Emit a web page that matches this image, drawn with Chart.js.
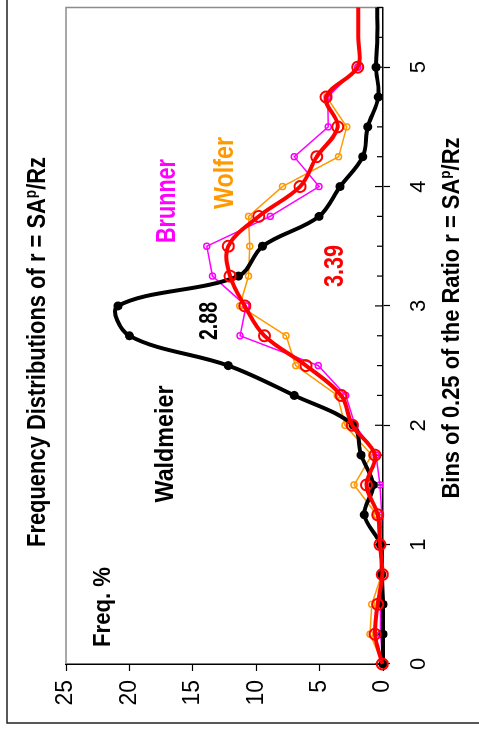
<!DOCTYPE html>
<html>
<head>
<meta charset="utf-8">
<script src="https://cdn.jsdelivr.net/npm/chart.js@4.4.0/dist/chart.umd.min.js"></script>
<style>
  html, body { margin: 0; padding: 0; background: #fff; overflow: hidden; }
  #wrap {
    position: absolute; left: 0; top: 0;
    width: 736px; height: 479px;
    transform-origin: 0 0;
    transform: translate(0, 736px) rotate(-90deg);
  }
</style>
</head>
<body>
<div id="wrap"><canvas id="freqChart" width="736" height="479"></canvas></div>
<script>
// Bins of 0.25 of the ratio r = SAp/Rz
const bins = [0, 0.25, 0.5, 0.75, 1, 1.25, 1.5, 1.75, 2, 2.25, 2.5, 2.75, 3,
              3.25, 3.5, 3.75, 4, 4.25, 4.5, 4.75, 5, 5.25, 5.5, 5.75];

// Frequency in percent
const waldmeier = [0, 0, 0, 0.1, 0.2, 1.47, 0.78, 1.73, 2.34, 7.0, 12.2, 20.0, 20.9,
                   11.4, 9.5, 5.04, 3.39, 1.6, 1.2, 0.37, 0.55, 0.45, 0.45, 0.45];
const average = [0.05, 0.63, 0.42, 0.05, 0.24, 0.42, 1.3, 0.63, 2.42, 3.3, 6.07, 9.35, 10.9,
                 12.06, 12.2, 9.8, 6.54, 5.23, 3.57, 4.49, 2.0, 1.95, 1.95, 1.95];
const brunner = [0, 0.2, 0.2, 0, 0.2, 0.1, 0.24, 0.55, 2.2, 2.94, 5.1, 11.27, 10.8,
                 13.45, 13.9, 8.9, 5.04, 7.0, 4.31, 4.36, 2.0];
const wolfer = [0, 1.02, 0.89, 0.1, 0.2, 0.5, 2.28, 0.89, 3.0, 3.6, 6.88, 7.64, 11.3,
                10.6, 10.5, 10.6, 7.93, 3.5, 2.86, 4.44, 2.0];

const valueTicks = [0, 5, 10, 15, 20, 25];
const binLabels = [0, 1, 2, 3, 4, 5];

const FONT = "'Liberation Sans', Arial, sans-serif";

function toPoints(values) {
    return values.map((v, i) => ({ x: bins[i], y: v }));
}

// Text drawn on top of the chart (landscape coordinates, before rotation)
const labels = [
    { parts: [['Frequency Distributions of r = SA'], ['p', true], ['/Rz']], cx: 384, base: 45, size: 26, width: 390, color: '#000' },
    { parts: [['Bins of 0.25 of the Ratio r = SA'], ['p', true], ['/Rz']], cx: 418, base: 459, size: 24, width: 361, color: '#000' },
    { parts: [['Freq. %']], cx: 129, base: 110, size: 24, width: 80, color: '#000' },
    { parts: [['Waldmeier']], cx: 292, base: 173, size: 25, width: 117, color: '#000' },
    { parts: [['2.88']], cx: 415, base: 217, size: 26, width: 38, color: '#000' },
    { parts: [['3.39']], cx: 470, base: 343, size: 27, width: 42, color: '#ff0000' },
    { parts: [['Brunner']], cx: 535, base: 175, size: 27, width: 84, color: '#ff00ff' },
    { parts: [['Wolfer']], cx: 563, base: 233, size: 27, width: 72, color: '#ff9900' }
];

function drawLabel(ctx, lab) {
    const supSize = lab.size * 0.62;
    let total = 0;
    lab.parts.forEach(p => {
        ctx.font = 'bold ' + (p[1] ? supSize : lab.size) + 'px ' + FONT;
        total += ctx.measureText(p[0]).width;
    });
    const sx = lab.width / total;
    ctx.save();
    ctx.translate(lab.cx, lab.base);
    ctx.scale(sx, 1);
    ctx.fillStyle = lab.color;
    ctx.textBaseline = 'alphabetic';
    ctx.textAlign = 'left';
    let x = -total / 2;
    lab.parts.forEach(p => {
        ctx.font = 'bold ' + (p[1] ? supSize : lab.size) + 'px ' + FONT;
        ctx.fillText(p[0], x, p[1] ? -lab.size * 0.36 : 0);
        x += ctx.measureText(p[0]).width;
    });
    ctx.restore();
}

const decor = {
    id: 'decor',
    beforeDatasetsDraw(chart) {
        const { ctx, chartArea: a } = chart;
        const xs = chart.scales.x;
        ctx.save();
        // gray frame of the plot area
        ctx.strokeStyle = '#8c8c8c';
        ctx.lineWidth = 1.5;
        ctx.beginPath();
        ctx.moveTo(a.left, a.top);
        ctx.lineTo(a.right, a.top);
        ctx.lineTo(a.right, a.bottom);
        ctx.stroke();
        // outer border of the figure
        ctx.strokeStyle = '#222';
        ctx.lineWidth = 1.5;
        ctx.beginPath();
        ctx.moveTo(13, chart.height);
        ctx.lineTo(13, 7);
        ctx.lineTo(chart.width, 7);
        ctx.stroke();
        // inner tick marks on the bin axis
        ctx.strokeStyle = '#000';
        ctx.lineWidth = 1.2;
        xs.ticks.forEach(t => {
            const px = xs.getPixelForValue(t.value);
            const len = Number.isInteger(t.value) ? 8 : 6;
            ctx.beginPath();
            ctx.moveTo(px, a.bottom);
            ctx.lineTo(px, a.bottom - len);
            ctx.stroke();
        });
        ctx.restore();
    },
    afterDraw(chart) {
        labels.forEach(lab => drawLabel(chart.ctx, lab));
    }
};

const ctx = document.getElementById('freqChart').getContext('2d');
new Chart(ctx, {
    type: 'line',
    data: {
        datasets: [
            {
                label: 'Average',
                data: toPoints(average),
                borderColor: '#ff0000',
                borderWidth: 4,
                tension: 0.35,
                capBezierPoints: false,
                clip: false,
                pointStyle: 'circle',
                pointRadius: c => (c.raw && c.raw.x > 5 ? 0 : 5.5),
                pointBorderWidth: 2,
                pointBorderColor: '#ff0000',
                pointBackgroundColor: 'rgba(0,0,0,0)'
            },
            {
                label: 'Waldmeier',
                data: toPoints(waldmeier),
                borderColor: '#000',
                borderWidth: 4,
                tension: 0.35,
                capBezierPoints: false,
                clip: false,
                pointRadius: c => (c.raw && c.raw.x > 5 ? 0 : 4.5),
                pointBorderWidth: 0,
                pointBackgroundColor: '#000'
            },
            {
                label: 'Brunner',
                data: toPoints(brunner),
                borderColor: '#ff00ff',
                borderWidth: 1.5,
                tension: 0,
                pointRadius: 3,
                pointBorderWidth: 1.5,
                pointBorderColor: '#ff00ff',
                pointBackgroundColor: 'rgba(0,0,0,0)'
            },
            {
                label: 'Wolfer',
                data: toPoints(wolfer),
                borderColor: '#ff9900',
                borderWidth: 1.5,
                tension: 0,
                pointRadius: 3,
                pointBorderWidth: 1.5,
                pointBorderColor: '#ff9900',
                pointBackgroundColor: 'rgba(0,0,0,0)'
            }
        ]
    },
    options: {
        responsive: false,
        animation: false,
        layout: { padding: { top: 66, right: 6, left: 0, bottom: 0 } },
        plugins: {
            legend: { display: false },
            tooltip: { enabled: false }
        },
        scales: {
            x: {
                type: 'linear',
                min: 0,
                max: 5.5,
                afterFit(s) {
                    s.height = 96;
                    s.paddingLeft = 0;
                    s.paddingRight = 0;
                },
                ticks: {
                    stepSize: 0.25,
                    autoSkip: false,
                    maxRotation: 0,
                    padding: 16,
                    color: '#000',
                    font: { family: FONT, size: 22 },
                    callback: v => (binLabels.includes(v) ? String(v) : '')
                },
                grid: {
                    drawOnChartArea: false,
                    tickLength: 7,
                    tickWidth: 1.2,
                    tickColor: c => (c.tick && binLabels.includes(c.tick.value) ? '#000' : 'rgba(0,0,0,0)')
                },
                border: { color: '#000', width: 1.5 }
            },
            y: {
                min: 0,
                max: 25,
                afterFit(s) {
                    s.width = 72;
                    s.paddingTop = 0;
                    s.paddingBottom = 0;
                },
                afterBuildTicks(s) { s.ticks = valueTicks.map(v => ({ value: v })); },
                ticks: {
                    padding: 9,
                    color: '#000',
                    font: { family: FONT, size: 23 }
                },
                grid: {
                    drawOnChartArea: false,
                    tickLength: 7,
                    tickWidth: 1.2,
                    tickColor: '#000'
                },
                border: { color: '#000', width: 1.5 }
            }
        }
    },
    plugins: [decor]
});
</script>
</body>
</html>
